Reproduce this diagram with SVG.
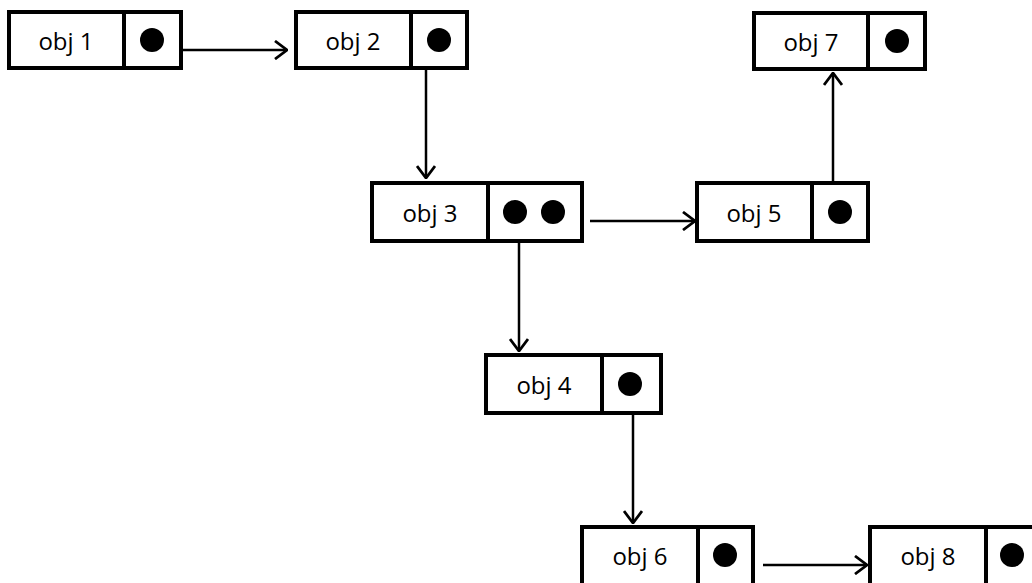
<svg xmlns="http://www.w3.org/2000/svg" width="1032" height="583" viewBox="0 0 1032 583">
<defs>
<style>
.box{fill:#fff;stroke:#000;stroke-width:4}
.div{stroke:#000;stroke-width:4}
.dot{fill:#000}
.lbl{font-family:"Open Sans","Noto Sans",sans-serif;font-size:24px;fill:#000;text-anchor:middle;dominant-baseline:central}
.conn{stroke:#000;stroke-width:2.5;fill:none}
</style>
<marker id="ah" viewBox="0 0 14 20" refX="13" refY="10" markerWidth="14" markerHeight="20" markerUnits="userSpaceOnUse" orient="auto">
<path d="M1,1 L13,10 L1,19" fill="none" stroke="#000" stroke-width="2.8"/>
</marker>
</defs>
<rect width="1032" height="583" fill="#fff"/>
<g id="connectors">
<line class="conn" x1="183" y1="50" x2="287" y2="50" marker-end="url(#ah)"/>
<line class="conn" x1="426" y1="70" x2="426" y2="178" marker-end="url(#ah)"/>
<line class="conn" x1="590" y1="221" x2="695" y2="221" marker-end="url(#ah)"/>
<line class="conn" x1="833" y1="183" x2="833" y2="73" marker-end="url(#ah)"/>
<line class="conn" x1="519" y1="243" x2="519" y2="351" marker-end="url(#ah)"/>
<line class="conn" x1="633" y1="415" x2="633" y2="523" marker-end="url(#ah)"/>
<line class="conn" x1="763" y1="565" x2="867" y2="565" marker-end="url(#ah)"/>
</g>
<g id="obj1">
<rect class="box" x="9" y="12" width="172" height="56"/>
<line class="div" x1="124" y1="12" x2="124" y2="68"/>
<circle class="dot" cx="152" cy="40" r="12"/>
<text class="lbl" x="66" y="40">obj 1</text>
</g>
<g id="obj2">
<rect class="box" x="296" y="12" width="171" height="56"/>
<line class="div" x1="411" y1="12" x2="411" y2="68"/>
<circle class="dot" cx="439" cy="40" r="12"/>
<text class="lbl" x="353" y="40">obj 2</text>
</g>
<g id="obj7">
<rect class="box" x="754" y="13" width="171" height="56"/>
<line class="div" x1="868" y1="13" x2="868" y2="69"/>
<circle class="dot" cx="897" cy="41" r="12"/>
<text class="lbl" x="811" y="41">obj 7</text>
</g>
<g id="obj3">
<rect class="box" x="372" y="183" width="210" height="58"/>
<line class="div" x1="488" y1="183" x2="488" y2="241"/>
<circle class="dot" cx="515" cy="212" r="12"/>
<circle class="dot" cx="553" cy="212" r="12"/>
<text class="lbl" x="430" y="212">obj 3</text>
</g>
<g id="obj5">
<rect class="box" x="697" y="183" width="171" height="58"/>
<line class="div" x1="812" y1="183" x2="812" y2="241"/>
<circle class="dot" cx="840" cy="212" r="12"/>
<text class="lbl" x="754" y="212">obj 5</text>
</g>
<g id="obj4">
<rect class="box" x="486" y="355" width="175" height="58"/>
<line class="div" x1="602" y1="355" x2="602" y2="413"/>
<circle class="dot" cx="630" cy="384" r="12"/>
<text class="lbl" x="544" y="384">obj 4</text>
</g>
<g id="obj6">
<rect class="box" x="582" y="527" width="171" height="60"/>
<line class="div" x1="698" y1="527" x2="698" y2="587"/>
<circle class="dot" cx="725" cy="555" r="12"/>
<text class="lbl" x="640" y="555">obj 6</text>
</g>
<g id="obj8">
<rect class="box" x="870" y="527" width="172" height="60"/>
<line class="div" x1="986" y1="527" x2="986" y2="587"/>
<circle class="dot" cx="1012" cy="555" r="12"/>
<text class="lbl" x="928" y="555">obj 8</text>
</g>
</svg>
